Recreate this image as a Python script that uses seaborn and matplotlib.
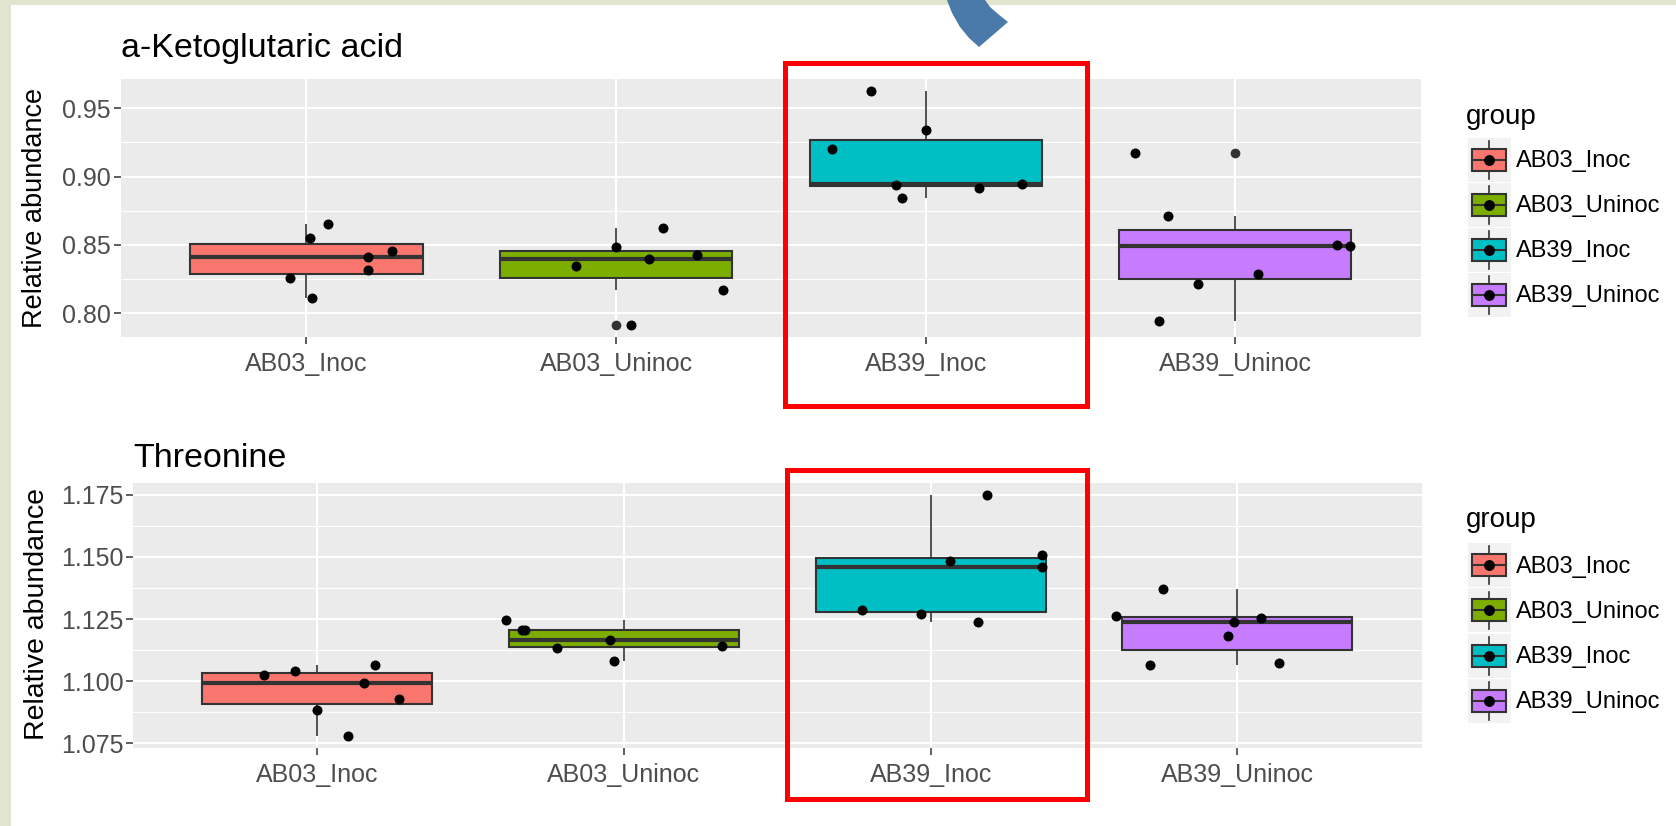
import numpy as np
import pandas as pd
import matplotlib
matplotlib.use("Agg")
import matplotlib.pyplot as plt
import seaborn as sns
from matplotlib.patches import Rectangle, Polygon, Patch
from matplotlib.lines import Line2D
from matplotlib.legend_handler import HandlerBase
from matplotlib.ticker import FixedLocator, FormatStrFormatter

plt.rcParams["font.family"] = ["Liberation Sans", "DejaVu Sans"]

# ---------------------------------------------------------------- data
groups = ["AB03_Inoc", "AB03_Uninoc", "AB39_Inoc", "AB39_Uninoc"]
group_colors = ["#F8766D", "#7CAE00", "#00BFC4", "#C77CFF"]

# a-Ketoglutaric acid, relative abundance (7 replicates per group)
akg_ab03_inoc = [0.8656, 0.8554, 0.8455, 0.8413, 0.8314, 0.8258, 0.8114]
akg_ab03_uninoc = [0.8627, 0.8484, 0.8430, 0.8399, 0.8343, 0.8170, 0.7915]
akg_ab39_inoc = [0.9626, 0.9342, 0.9199, 0.8941, 0.8844, 0.8917, 0.8943]
akg_ab39_uninoc = [0.9172, 0.8715, 0.8500, 0.8494, 0.8285, 0.8216, 0.7942]

# horizontal jitter of each replicate (in category units)
akg_jit_ab03_inoc = [0.069, 0.011, 0.276, 0.200, 0.200, -0.052, 0.017]
akg_jit_ab03_uninoc = [0.151, -0.001, 0.263, 0.105, -0.128, 0.345, 0.049]
akg_jit_ab39_inoc = [-0.177, 0.000, -0.303, -0.095, -0.075, 0.171, 0.310]
akg_jit_ab39_uninoc = [-0.323, -0.216, 0.328, 0.372, 0.075, -0.120, -0.247]

# Threonine, relative abundance
thr_ab03_inoc = [1.1064, 1.1041, 1.1024, 1.0993, 1.0930, 1.0883, 1.0781]
thr_ab03_uninoc = [1.1245, 1.1207, 1.1205, 1.1135, 1.1166, 1.1080, 1.1143]
thr_ab39_inoc = [1.1482, 1.1286, 1.1270, 1.1750, 1.1506, 1.1459, 1.1237]
thr_ab39_uninoc = [1.1371, 1.1263, 1.1253, 1.1237, 1.1182, 1.1064, 1.1072]

thr_jit_ab03_inoc = [0.190, -0.071, -0.174, 0.152, 0.268, -0.001, 0.101]
thr_jit_ab03_uninoc = [-0.383, -0.332, -0.321, -0.218, -0.046, -0.032, 0.319]
thr_jit_ab39_inoc = [0.063, -0.224, -0.033, 0.185, 0.363, 0.363, 0.153]
thr_jit_ab39_uninoc = [-0.243, -0.396, 0.076, -0.012, -0.032, -0.286, 0.135]

akg_ticks = [0.80, 0.85, 0.90, 0.95]
thr_ticks = [1.075, 1.100, 1.125, 1.150, 1.175]

# ---------------------------------------------------------------- figure
W, H, DPI = 1676, 826, 100
fig = plt.figure(figsize=(W / DPI, H / DPI), dpi=DPI, facecolor="white")


def fx(px):
    return px / W


def fy(py):
    return 1 - py / H


LINE = "#333333"
TEXT = "#4D4D4D"


class BoxKeyHandler(HandlerBase):
    """ggplot-like legend key: small boxplot with a point on top."""

    def create_artists(self, legend, orig_handle, xdescent, ydescent,
                       width, height, fontsize, trans):
        x0, y0, w, h = -xdescent, -ydescent, width, height
        cx = x0 + w / 2
        bg = Rectangle((x0, y0), w, h, facecolor="#F2F2F2",
                       edgecolor="none", transform=trans)
        whisk = Line2D([cx, cx], [y0 + 0.07 * h, y0 + 0.93 * h],
                       color=LINE, lw=1.2, transform=trans)
        box = Rectangle((x0 + 0.11 * w, y0 + 0.25 * h), 0.78 * w, 0.5 * h,
                        facecolor=orig_handle.get_facecolor(),
                        edgecolor=LINE, lw=1.5, transform=trans)
        med = Line2D([x0 + 0.11 * w, x0 + 0.89 * w], [y0 + 0.5 * h] * 2,
                     color=LINE, lw=1.5, transform=trans)
        dot = Line2D([cx], [y0 + 0.5 * h], marker="o", color="black",
                     markersize=6.8, linestyle="none", transform=trans)
        return [bg, whisk, box, med, dot]


def draw_panel(ax, values, jitters, title, ticks, fmt, title_pad):
    counts = [len(v) for v in values]
    df = pd.DataFrame({
        "group": np.repeat(groups, counts),
        "value": np.concatenate(values),
    })
    ax.set_facecolor("#EBEBEB")
    sns.boxplot(
        data=df, x="group", y="value", hue="group", order=groups,
        hue_order=groups, palette=group_colors, saturation=1, width=0.75,
        dodge=False, linecolor=LINE, linewidth=1.5, legend=False,
        medianprops=dict(linewidth=3.0),
        whiskerprops=dict(linewidth=1.2),
        capprops=dict(visible=False),
        flierprops=dict(marker="o", markersize=7.0, markerfacecolor=LINE,
                        markeredgecolor=LINE, markeredgewidth=0),
        ax=ax,
    )
    xpos = np.concatenate([i + np.asarray(j) for i, j in enumerate(jitters)])
    sns.scatterplot(x=xpos, y=df["value"].to_numpy(), color="black", s=52,
                    linewidth=0, ax=ax, zorder=4)

    lo, hi = df["value"].min(), df["value"].max()
    pad = 0.05 * (hi - lo)
    ax.set_ylim(lo - pad, hi + pad)
    ax.set_xlim(-0.6, len(groups) - 0.4)

    step = ticks[1] - ticks[0]
    ax.yaxis.set_major_locator(FixedLocator(ticks))
    minor = [t + step / 2 for t in [ticks[0] - step] + list(ticks)]
    ax.yaxis.set_minor_locator(FixedLocator(minor))
    ax.yaxis.set_major_formatter(FormatStrFormatter(fmt))
    ax.set_xticks(range(len(groups)))
    ax.set_xticklabels(groups)
    ax.set_xlabel("")
    ax.set_ylabel("")

    for s in ax.spines.values():
        s.set_visible(False)
    ax.set_axisbelow(True)
    ax.grid(which="major", color="white", linewidth=1.5)
    ax.grid(which="minor", axis="y", color="white", linewidth=0.8)
    ax.tick_params(which="major", length=5, width=1.1, color=LINE,
                   labelcolor=TEXT, labelsize=18)
    ax.tick_params(which="major", axis="y", pad=2)
    ax.tick_params(which="major", axis="x", pad=6)
    ax.tick_params(which="minor", length=0)
    ax.set_title(title, loc="left", fontsize=24.5, pad=title_pad,
                 color="black")


# a-Ketoglutaric acid panel
ax1 = fig.add_axes([fx(120.7), fy(336.7), fx(1421) - fx(120.7),
                    fy(79.3) - fy(336.7)])
draw_panel(ax1,
           [akg_ab03_inoc, akg_ab03_uninoc, akg_ab39_inoc, akg_ab39_uninoc],
           [akg_jit_ab03_inoc, akg_jit_ab03_uninoc, akg_jit_ab39_inoc,
            akg_jit_ab39_uninoc],
           "a-Ketoglutaric acid", akg_ticks, "%.2f", 16)

# Threonine panel
ax2 = fig.add_axes([fx(133), fy(747.7), fx(1421.5) - fx(133),
                    fy(482.7) - fy(747.7)])
draw_panel(ax2,
           [thr_ab03_inoc, thr_ab03_uninoc, thr_ab39_inoc, thr_ab39_uninoc],
           [thr_jit_ab03_inoc, thr_jit_ab03_uninoc, thr_jit_ab39_inoc,
            thr_jit_ab39_uninoc],
           "Threonine", thr_ticks, "%.3f", 11.5)

# y-axis titles
fig.text(fx(35), fy(208), "Relative abundance", rotation=90, ha="center",
         va="center", fontsize=19.5, color="black")
fig.text(fx(36.8), fy(614), "Relative abundance", rotation=90, ha="center",
         va="center", fontsize=20.5, color="black")

# legends: title text plus boxplot keys (keys about 44 px square)
handles = [Patch(facecolor=c, edgecolor=LINE) for c in group_colors]
for ax, title_base, key_top in [(ax1, 124.3, 137.7), (ax2, 527.3, 543.3)]:
    fig.text(fx(1466), fy(title_base), "group", fontsize=20, va="baseline",
             ha="left", color="black")
    ax.legend(handles, groups, handler_map={Patch: BoxKeyHandler()},
              fontsize=17, loc="upper left",
              bbox_to_anchor=(fx(1467.7), fy(key_top)),
              bbox_transform=fig.transFigure, frameon=False, borderpad=0,
              borderaxespad=0, handlelength=31.0 / 17, handleheight=2.49,
              handletextpad=0.24, labelspacing=0.05)

# slide background strips
fig.add_artist(Rectangle((0, 0), fx(11), 1, transform=fig.transFigure,
                         facecolor="#E1E4CF", edgecolor="none", zorder=0))
fig.add_artist(Rectangle((0, fy(5)), 1, 5 / H, transform=fig.transFigure,
                         facecolor="#E1E4CF", edgecolor="none", zorder=0))

# highlight frames around AB39_Inoc
for (x0, y0, x1, y1) in [(785, 63.5, 1086.7, 406), (787, 470, 1086.5, 799)]:
    fig.add_artist(Rectangle((fx(x0), fy(y1)), fx(x1) - fx(x0), fy(y0) - fy(y1),
                             transform=fig.transFigure, fill=False,
                             edgecolor="#FF0000", linewidth=3.6, zorder=10))

# curved arrow tip pointing down to the top frame
arrow_px = [(947, 0), (952, 13), (960, 27), (969, 38), (979, 47),
            (1008, 22), (998, 14), (990, 7), (985, 0)]
fig.add_artist(Polygon([(fx(x), fy(y)) for x, y in arrow_px],
                       closed=True, transform=fig.transFigure,
                       facecolor="#4A7AAA", edgecolor="none", zorder=10))

fig.savefig("out.png", dpi=DPI, facecolor="white")
